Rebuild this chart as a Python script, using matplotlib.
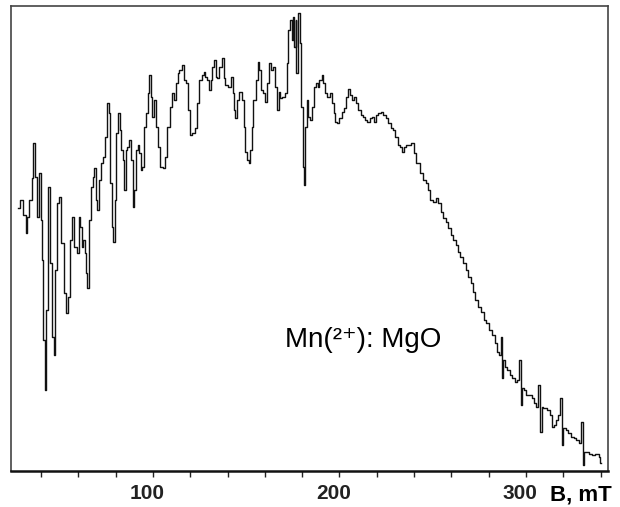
import numpy as np
import matplotlib
matplotlib.use("Agg")
import matplotlib.pyplot as plt
import matplotlib.transforms as mtransforms

plt.rcParams['font.family'] = ['Liberation Sans', 'DejaVu Sans']

# EPR spectrum: field in mT, intensity in arbitrary units
field_mT = [
    27.6, 29.8, 31.4, 32.5, 33.0, 34.6, 35.7, 36.2, 37.3, 37.9, 39.5, 40.5, 41.0, 41.6, 42.6, 43.2,
    44.3, 45.4, 46.4, 47.0, 48.0, 49.6, 50.1, 51.3, 52.9, 53.9, 55.0, 56.1, 57.1, 58.8, 59.9, 60.4,
    61.4, 62.5, 63.0, 64.1, 64.6, 65.2, 66.3, 67.4, 67.9, 69.0, 69.5, 70.0, 70.5, 71.6,
    72.7, 73.8, 74.9, 75.9, 77.0, 77.5, 78.6, 79.1, 80.2, 80.7, 81.9, 82.4, 83.4, 84.0, 85.0, 86.1,
    86.6, 87.7, 88.8, 89.4, 90.4, 91.5, 92.0, 93.1, 94.1, 94.6, 95.7, 96.9, 97.4, 98.5, 99.5, 100.0,
    101.1, 102.2, 103.2, 104.9, 106.0, 107.0, 108.1, 109.7, 110.8, 111.9, 112.9, 113.5, 115.0, 116.1,
    117.2, 118.3, 119.4, 120.4, 121.5, 123.1, 124.1, 125.2,
    126.9, 127.4, 128.5, 129.5, 130.6, 131.6, 132.2, 133.3, 133.9, 134.9, 136.0, 137.6, 138.1, 139.7,
    140.8, 142.4, 143.0, 143.5, 144.5, 145.6, 146.7, 148.3, 148.9, 149.9, 151.0, 151.5, 152.6, 153.6,
    154.2, 155.9, 156.4, 157.4, 158.5, 159.6, 161.1, 161.7, 162.7, 163.9, 164.4, 166.0, 167.1, 167.6,
    168.6, 169.7, 171.4, 171.9, 173.0, 174.0, 174.6, 175.1, 176.2, 176.7, 177.2, 178.4, 178.9, 180.0,
    180.5, 181.5, 182.1, 182.6,
    183.7, 184.7, 185.9, 186.9, 188.0, 188.5, 190.1, 191.2, 191.7, 192.9, 193.9, 195.5, 196.6, 197.1,
    198.1, 199.2, 200.4, 201.9, 203.0, 204.1, 205.1, 206.2, 207.2, 207.9, 209.5, 210.5, 212.1, 213.2,
    214.2, 215.4, 217.0, 218.0, 219.1, 220.1, 221.2, 222.9, 223.9, 225.5, 226.6, 228.2, 229.2, 230.9,
    231.4, 233.0, 234.1, 235.1, 236.7,
    239.5, 240.5, 242.1, 244.2, 245.4, 247.0, 248.0, 249.6, 250.7, 252.4, 253.4, 255.0, 256.1, 257.7,
    258.7, 260.4, 261.5, 263.1, 264.1, 265.7, 266.8, 268.4, 269.5, 271.1, 272.1, 273.7, 274.9, 276.5,
    278.1, 279.1, 281.2, 282.4, 284.0, 285.0, 286.1,
    286.6, 287.2, 288.2, 289.3, 290.4, 292.0, 293.1, 294.7, 295.7, 296.8, 297.4, 298.5, 299.5, 300.6,
    302.2, 303.8, 304.9, 306.0, 307.0, 308.1, 308.6, 310.2, 311.9, 313.5, 314.5, 315.6, 316.7, 317.7,
    318.8, 319.4, 320.5, 322.0, 323.1, 324.7, 326.3, 327.4, 329.0, 330.1, 330.6, 331.7, 332.7, 334.4,
    336.0, 338.1, 339.7, 340.2,
]
intensity = [
    263, 271, 256, 238, 254, 271, 293, 328, 294, 254, 298, 251, 211, 131, 81, 161,
    284, 208, 134, 116, 201, 268, 274, 228, 178, 158, 174, 231, 254, 224, 218, 254,
    244, 224, 231, 218, 198, 183, 251, 284, 294, 303, 298, 271, 261, 291,
    308, 314, 334, 368, 358, 288, 244, 229, 271, 338, 358, 341, 321, 311, 281, 321,
    324, 331, 311, 264, 281, 321, 326, 318, 301, 304, 344, 358, 378, 396, 374, 354,
    371, 344, 324, 304, 303, 314, 344, 364, 378, 371, 388, 398, 401, 406,
    391, 388, 361, 336, 338, 343, 368, 391,
    396, 399, 394, 391, 381, 391, 404, 411, 394, 393, 404, 413, 393, 386,
    384, 394, 378, 361, 353, 371, 379, 371, 344, 319, 311, 308, 321, 344,
    371, 391, 409, 401, 381, 378, 369, 388, 408, 401, 404, 384, 361, 379,
    373, 374, 378, 408, 441, 451, 431, 454, 424, 451, 398, 458, 428, 364,
    304, 286, 344, 371,
    354, 351, 364, 384, 388, 384, 391, 396, 388, 378, 374, 378, 368, 358,
    349, 348, 353, 359, 363, 374, 382, 376, 371, 374, 368, 361, 356, 354,
    351, 349, 353, 354, 349, 356, 358, 359, 356, 353, 348, 343, 341, 334,
    326, 324, 319, 324, 326,
    328, 318, 308, 298, 291, 288, 281, 271, 269, 273, 268, 259, 253, 249,
    243, 236, 231, 226, 219, 214, 208, 201, 194, 188, 179, 171, 164, 159,
    151, 148, 141, 136, 128, 119, 116,
    134, 93, 111, 104, 101, 96, 93, 89, 91, 111, 66, 83, 81, 76,
    76, 73, 68, 64, 86, 39, 64, 63, 61, 56, 44, 46, 51, 56,
    73, 26, 43, 41, 38, 34, 33, 31, 28, 49, 6, 19, 19, 17,
    16, 17, 14, 8,
]

tick_pos = list(range(40, 341, 20))
tick_labels = {100: '100', 200: '200', 300: '300'}

fig = plt.figure(figsize=(6.2, 5.07), dpi=100)
ax = fig.add_axes([0.0177, 0.071, 0.963, 0.917])

ax.plot(field_mT, intensity, color='#111111', lw=1.0, drawstyle='steps-mid')

ax.set_xlim(23.9, 344.0)
ax.set_ylim(0, 465)
ax.set_yticks([])
ax.set_xticks(tick_pos)
ax.set_xticklabels([tick_labels.get(t, '') for t in tick_pos],
                   fontsize=15, fontweight='bold')
ax.tick_params(axis='x', direction='out', length=4, width=1, pad=5, colors='#222222')

# labels sit a little left of their ticks in the original
shift = mtransforms.ScaledTranslation(-6 / 100, 0, fig.dpi_scale_trans)
for lab in ax.get_xticklabels():
    lab.set_transform(lab.get_transform() + shift)

for side in ['left', 'top', 'right']:
    ax.spines[side].set_color('#444444')
    ax.spines[side].set_linewidth(1.2)
ax.spines['bottom'].set_color('#111111')
ax.spines['bottom'].set_linewidth(1.8)

ax.text(170.8, 124, 'Mn(²⁺): MgO', fontsize=20, ha='left', va='baseline')
ax.text(1.007, -0.029, 'B, mT', transform=ax.transAxes, fontsize=16, fontweight='bold',
        ha='right', va='top')

fig.savefig('out.png', dpi=100)
